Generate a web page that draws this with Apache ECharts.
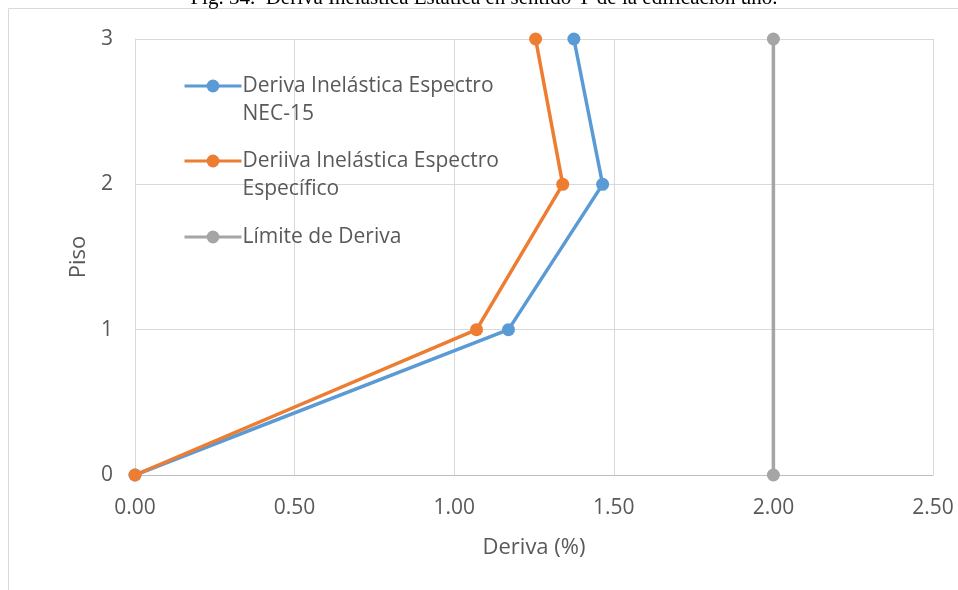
<!DOCTYPE html>
<html>
<head>
<meta charset="utf-8">
<script src="https://cdn.jsdelivr.net/npm/echarts@6/dist/echarts.min.js"></script>
<style>
html,body{margin:0;padding:0;background:#fff;}
#c{width:958px;height:590px;}
</style>
</head>
<body>
<div id="c"></div>
<script>
var floors = [0, 1, 2, 3];
var derivaNEC = [0, 1.17, 1.465, 1.375];
var derivaEspecifico = [0, 1.07, 1.34, 1.255];
var limite = [2.0, 2.0];
var limiteFloors = [0, 3];
var xTicks = [0, 0.5, 1.0, 1.5, 2.0, 2.5];
var seriesNames = ['Deriva Inelástica Espectro\nNEC-15', 'Deriiva Inelástica Espectro\nEspecífico', 'Límite de Deriva'];
var titleText = 'Fig. 34.  Deriva Inelástica Estática en sentido Y de la edificación uno.';

function pairs(xs, ys){ return xs.map(function(x,i){ return [x, ys[i]]; }); }

var font = '"Open Sans", "Liberation Sans", sans-serif';
var txt = '#595959';
var colors = ['#5b9bd5', '#ed7d31', '#a5a5a5'];

function legendFor(i, top, twoLine){
  return {
    left: 178, top: top, orient: 'vertical',
    data: [seriesNames[i]],
    itemWidth: 57, itemHeight: 16,
    itemGap: 0,
    lineStyle: {width: 3},
    formatter: function(n){ return twoLine ? ' \n' + n : n; },
    textStyle: {
      fontFamily: font, fontSize: 21, color: txt, lineHeight: 28,
      padding: [0, 0, 0, -4]
    },
    selectedMode: false
  };
}

var chart = echarts.init(document.getElementById('c'), null, {renderer: 'canvas'});
chart.setOption({
  animation: false,
  backgroundColor: '#fff',
  color: colors,
  graphic: [
    {type: 'rect', shape: {x: 8.5, y: 8.5, width: 1200, height: 1200}, style: {fill: 'none', stroke: '#d9d9d9', lineWidth: 1}, silent: true, z: -10},
    {type: 'text', x: 484, y: 9, style: {text: titleText, font: '21px "Liberation Serif", "Times New Roman", serif', fill: '#000', align: 'center', verticalAlign: 'bottom'}, silent: true}
  ],
  legend: [
    legendFor(0, 39, true),
    legendFor(1, 114, true),
    legendFor(2, 218, false)
  ],
  grid: {left: 135, right: 25, top: 39, bottom: 115, containLabel: false},
  xAxis: {
    type: 'value', min: 0, max: 2.5, interval: 0.5,
    name: 'Deriva (%)', nameLocation: 'middle', nameGap: 62,
    nameTextStyle: {fontFamily: font, fontSize: 22, color: txt},
    axisLine: {show: true, lineStyle: {color: '#bfbfbf', width: 1}},
    axisTick: {show: false},
    axisLabel: {fontFamily: font, fontSize: 21, color: txt, margin: 23,
      formatter: function(v){ return v.toFixed(2); }},
    splitLine: {show: true, lineStyle: {color: '#d9d9d9', width: 1}}
  },
  yAxis: {
    type: 'value', min: 0, max: 3, interval: 1,
    name: 'Piso', nameLocation: 'middle', nameGap: 42,
    nameTextStyle: {fontFamily: font, fontSize: 22, color: txt},
    axisLine: {show: true, lineStyle: {color: '#d9d9d9', width: 1}},
    axisTick: {show: false},
    axisLabel: {fontFamily: font, fontSize: 21, color: txt, margin: 22},
    splitLine: {show: true, lineStyle: {color: '#d9d9d9', width: 1}}
  },
  series: [
    {name: seriesNames[0], type: 'line', data: pairs(derivaNEC, floors),
     symbol: 'circle', symbolSize: 13, lineStyle: {width: 3.5}, itemStyle: {color: colors[0]}, z: 3},
    {name: seriesNames[1], type: 'line', data: pairs(derivaEspecifico, floors),
     symbol: 'circle', symbolSize: 13, lineStyle: {width: 3.5}, itemStyle: {color: colors[1]}, z: 4},
    {name: seriesNames[2], type: 'line', data: pairs(limite, limiteFloors),
     symbol: 'circle', symbolSize: 13, lineStyle: {width: 3.5}, itemStyle: {color: colors[2]}, z: 2}
  ]
});
</script>
</body>
</html>
